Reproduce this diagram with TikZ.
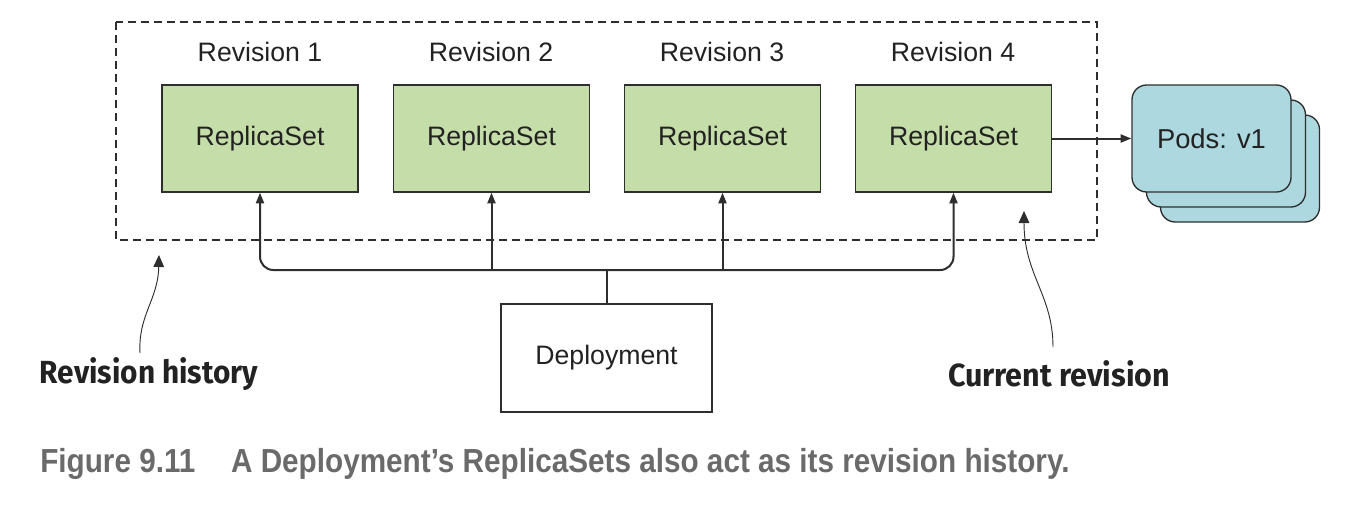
\documentclass[tikz,border=0pt]{standalone}
\usepackage{fontspec}
\usepackage{graphicx}
\setmainfont{Liberation Sans}
\newfontfamily\annfont{Fira Sans}
\newfontfamily\capfont{Liberation Sans}
\usetikzlibrary{arrows.meta}
\definecolor{rsgreen}{HTML}{C5DDA8}
\definecolor{podblue}{HTML}{ADD8E0}
\definecolor{edge}{HTML}{2E2E2E}
\definecolor{txt}{HTML}{222222}
\definecolor{capgray}{HTML}{6A6A6A}
\tikzset{
  rsbox/.style={draw=edge, line width=1pt, fill=rsgreen, minimum width=147pt, minimum height=80.25pt, inner sep=0pt, text=txt, font=\fontsize{20}{22}\selectfont},
  depbox/.style={draw=edge, line width=1pt, fill=white, minimum width=158.25pt, minimum height=81pt, inner sep=0pt, text=txt, font=\fontsize{20}{22}\selectfont},
  podbox/.style={draw=edge, line width=1pt, fill=podblue, rounded corners=11pt, minimum width=119.25pt, minimum height=80.25pt, inner sep=0pt, text=txt, font=\fontsize{20.5}{22}\selectfont},
  revlabel/.style={text=txt, inner sep=0pt, font=\fontsize{20}{22}\selectfont},
  conn/.style={draw=edge, line width=1.5pt, -{Triangle[length=8pt,width=6pt]}},
  ann/.style={draw=edge, line width=0.7pt, -{Triangle[length=9pt,width=8pt]}},
  annlabel/.style={text=txt, inner sep=0pt, font=\annfont\bfseries\fontsize{24}{28}\selectfont},
  history/.style={draw=edge, line width=1pt, dash pattern=on 6pt off 3.8pt},
}
\begin{document}
\begin{tikzpicture}[x=0.75pt,y=-0.75pt]
\useasboundingbox (0,0) rectangle (1372,504);
% revision history frame
\draw[history] (116,22) rectangle (1097,240);
% labels
\node[revlabel] (l1) at (260,52) {Revision 1};
\node[revlabel] (l2) at (491,52) {Revision 2};
\node[revlabel] (l3) at (722,52) {Revision 3};
\node[revlabel] (l4) at (953,52) {Revision 4};
% replica sets
\node[rsbox] (rs1) at (260,138.5) {ReplicaSet};
\node[rsbox] (rs2) at (491.5,138.5) {ReplicaSet};
\node[rsbox] (rs3) at (722.5,138.5) {ReplicaSet};
\node[rsbox] (rs4) at (953.5,138.5) {ReplicaSet};
% pods
\node[podbox] (p3) at (1240,168.5) {};
\node[podbox] (p2) at (1226,153.5) {};
\node[podbox] (p1) at (1211.5,138.5) {Pods: v1};
% deployment
\node[depbox] (dep) at (606.5,358) {Deployment};
\coordinate (bus) at (606.5,270);
% connectors
\draw[draw=edge, line width=1.5pt] (dep.north) -- (bus);
\draw[conn, {Triangle[length=8pt,width=6pt]}-{Triangle[length=8pt,width=6pt]}, rounded corners=10pt]
  (rs1.south) -- (rs1.south |- bus) -- (rs4.south |- bus) -- (rs4.south);
\draw[conn] (rs2.south |- bus) -- (rs2.south);
\draw[conn] (rs3.south |- bus) -- (rs3.south);
\draw[conn] (rs4.east) -- (p1.west);
% annotations
\node[annlabel] (rh) at (149,374) {\resizebox{163.5pt}{\height}{Revision history}};
\node[annlabel] (cr) at (1059,374) {\resizebox{166.5pt}{\height}{Current revision}};
\coordinate (rhtip) at (159,255);
\coordinate (crtip) at (1024,211);
\draw[ann] (140,353) .. controls (138,315) and (158,300) .. (rhtip);
\draw[ann] (1053,347) .. controls (1053,295) and (1024,275) .. (crtip);
% caption
\node[anchor=west, inner sep=0pt, text=capgray, font=\capfont\bfseries\fontsize{25}{28}\selectfont] (cap) at (40,464)
  {\resizebox{772pt}{\height}{Figure 9.11\hspace{1.2em}A Deployment’s ReplicaSets also act as its revision history.}};
\end{tikzpicture}
\end{document}
